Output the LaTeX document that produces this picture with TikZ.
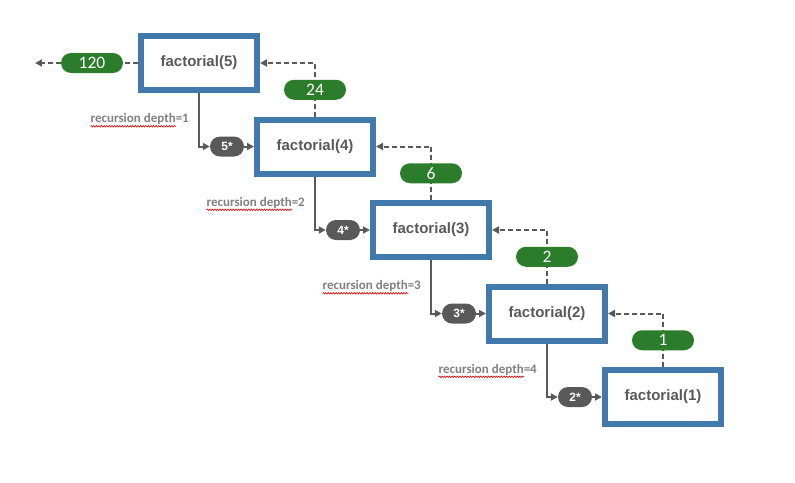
\documentclass[tikz,border=0pt]{standalone}
\usepackage{fontspec}
\setmainfont{Liberation Sans}
\newfontfamily\calibri{Carlito}
\usetikzlibrary{arrows.meta,calc,decorations.pathmorphing}
\definecolor{boxblue}{RGB}{65,122,170}
\definecolor{valgreen}{RGB}{43,125,43}
\definecolor{darkgrey}{RGB}{89,89,89}
\definecolor{labelgrey}{RGB}{128,128,128}
\def\hspacing{116pt}
\def\vspacing{83.5pt}
\tikzset{
    callbox/.style={draw=boxblue, line width=6pt, fill=white, minimum width=116pt, minimum height=54pt,
        text=darkgrey, font=\fontsize{15}{15}\selectfont\bfseries},
    retval/.style={fill=valgreen, rounded corners=10pt, minimum width=62pt, minimum height=20pt,
        inner sep=0pt, text=white, font=\calibri\fontsize{17.5}{17.5}\selectfont},
    mult/.style={fill=darkgrey, rounded corners=10pt, minimum width=34pt, minimum height=20pt,
        inner sep=0pt, text=white, font=\fontsize{12}{12}\selectfont\bfseries},
    depth/.style={anchor=east, inner sep=0pt, text=labelgrey, font=\calibri\fontsize{13}{13}\selectfont\bfseries},
    call/.style={draw=darkgrey, line width=2pt, -{Triangle[length=7pt,width=7pt]}},
    ret/.style={draw=darkgrey, line width=2pt, dash pattern=on 5pt off 3pt},
    spell/.style={draw=red!85!black, line width=0.6pt, decorate,
        decoration={snake, amplitude=0.8pt, segment length=2.6pt}},
}
% one call box per recursion level
\newcommand{\fact}[2]{
    \node[callbox] (f#2) at (#1*\hspacing, -#1*\vspacing) {factorial(#2)};
}
% parent #1 calls child #2 with multiplier #3 at depth #4, child returns #5
\newcommand{\recur}[5]{
    \node[mult, xshift=28pt] (m#2) at (f#1.center |- f#2.center) {#3};
    \draw[call] (f#1.south) |- (m#2.west);
    \draw[call] (m#2.east) -- (f#2.west);
    \draw[ret, -{Triangle[length=7pt,width=7pt]}] (f#2.north) -- (f#2.north |- f#1.east)
        node[retval, midway] (r#2) {#5} -- (f#1.east);
    \node[depth] (d#2) at ([xshift=-10pt, yshift=-56pt]f#1.center) {recursion depth=#4};
    \draw[spell] ([yshift=-1.5pt]d#2.south west) -- ($([yshift=-1.5pt]d#2.south west)!0.87!([yshift=-1.5pt]d#2.south east)$);
}

\begin{document}
\begin{tikzpicture}
    \useasboundingbox (-199pt, 63pt) rectangle (596pt, -419pt);
    \fact{0}{5}
    \fact{1}{4}
    \fact{2}{3}
    \fact{3}{2}
    \fact{4}{1}
    \recur{5}{4}{5*}{1}{24}
    \recur{4}{3}{4*}{2}{6}
    \recur{3}{2}{3*}{3}{2}
    \recur{2}{1}{2*}{4}{1}
    % final result
    \node[retval] (r5) at ([xshift=-107pt]f5.center) {120};
    \coordinate (done) at ([xshift=-164pt]f5.center);
    \draw[ret] (f5.west) -- (r5.east);
    \draw[ret, -{Triangle[length=7pt,width=7pt]}] (r5.west) -- (done);
\end{tikzpicture}
\end{document}
